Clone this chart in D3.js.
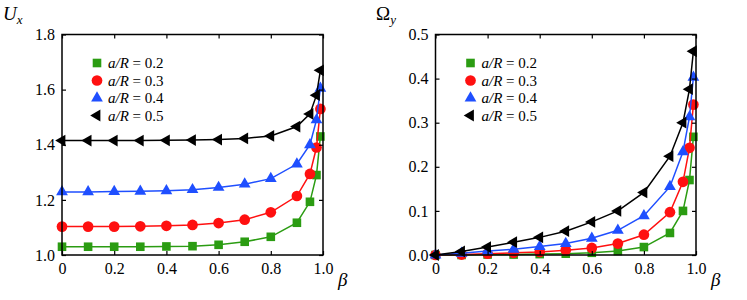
<!DOCTYPE html>
<html>
<head>
<meta charset="utf-8">
<script src="https://cdn.jsdelivr.net/npm/d3@7"></script>
<style>
  svg text, svg tspan { font-family: 'Liberation Serif', serif !important; }
</style>
</head>
<body style="margin:0">
<script>
// beta values (same for every series and both panels)
var beta = [0, 0.1, 0.2, 0.3, 0.4, 0.5, 0.6, 0.7, 0.8, 0.9, 0.95, 0.975, 0.99];

// a/R labels for the four series
var ratios = ['0.2', '0.3', '0.4', '0.5'];

// U_x, left panel
var ux02 = [1.030, 1.030, 1.030, 1.030, 1.031, 1.032, 1.037, 1.048, 1.066, 1.117, 1.193, 1.29, 1.43];
var ux03 = [1.103, 1.103, 1.103, 1.104, 1.106, 1.109, 1.116, 1.128, 1.155, 1.214, 1.294, 1.39, 1.53];
var ux04 = [1.229, 1.229, 1.230, 1.231, 1.233, 1.237, 1.245, 1.257, 1.277, 1.330, 1.40, 1.49, 1.605];
var ux05 = [1.415, 1.415, 1.415, 1.415, 1.416, 1.417, 1.419, 1.423, 1.432, 1.466, 1.512, 1.58, 1.67];

// Omega_y, right panel
var om02 = [0, 0.000, 0.001, 0.001, 0.002, 0.003, 0.005, 0.009, 0.018, 0.050, 0.100, 0.170, 0.268];
var om03 = [0, 0.001, 0.003, 0.005, 0.007, 0.011, 0.016, 0.026, 0.046, 0.097, 0.166, 0.243, 0.341];
var om04 = [0, 0.004, 0.009, 0.013, 0.019, 0.026, 0.038, 0.056, 0.089, 0.155, 0.234, 0.313, 0.403];
var om05 = [0, 0.008, 0.018, 0.029, 0.040, 0.054, 0.075, 0.100, 0.142, 0.224, 0.300, 0.376, 0.462];

// tick values
var xTicks = [0, 0.2, 0.4, 0.6, 0.8, 1.0];
var uxTicks = [1.0, 1.2, 1.4, 1.6, 1.8];
var omTicks = [0, 0.1, 0.2, 0.3, 0.4, 0.5];

var colors = ['#2b9c12', '#ff1010', '#1f4fff', '#000000'];
var shapes = ['square', 'circle', 'up', 'left'];

var svg = d3.select('body').append('svg')
  .attr('width', 747)
  .attr('height', 300)
  .attr('font-family', 'Liberation Serif');

function symbolPath(shape) {
  if (shape === 'square') return d3.symbol().type(d3.symbolSquare).size(74)();
  if (shape === 'circle') return d3.symbol().type(d3.symbolCircle).size(90)();
  return d3.symbol().type(d3.symbolTriangle).size(60)();
}

function addMarker(g, shape, color, x, y) {
  g.append('path')
    .attr('d', symbolPath(shape))
    .attr('fill', color)
    .attr('transform', 'translate(' + x + ',' + y + ')' + (shape === 'left' ? ' rotate(-90)' : ''));
}

function styleAxis(sel) {
  sel.attr('font-family', 'Liberation Serif').attr('font-size', 16);
  sel.select('.domain').remove();
  sel.selectAll('line').attr('stroke', '#000').attr('stroke-width', 1.2);
  sel.selectAll('text').attr('fill', '#000');
}

function panel(opts) {
  var g = svg.append('g');
  var x = d3.scaleLinear().domain([0, 1]).range([opts.left, opts.right]);
  var y = d3.scaleLinear().domain(opts.ydomain).range([opts.bottom, opts.top]);

  // series lines then markers
  opts.series.forEach(function(vals, k) {
    var pts = beta.map(function(b, i) { return [b, vals[i]]; });
    g.append('path')
      .datum(pts)
      .attr('fill', 'none')
      .attr('stroke', colors[k])
      .attr('stroke-width', 1.5)
      .attr('d', d3.line().x(function(d) { return x(d[0]); }).y(function(d) { return y(d[1]); }));
    pts.forEach(function(d) {
      addMarker(g, shapes[k], colors[k], x(d[0]), y(d[1]));
    });
  });

  // frame
  g.append('rect')
    .attr('x', opts.left).attr('y', opts.top)
    .attr('width', opts.right - opts.left).attr('height', opts.bottom - opts.top)
    .attr('fill', 'none').attr('stroke', '#000').attr('stroke-width', 1.5);

  // inward ticks on all four sides, labels on left and bottom
  var TICK = 4;
  g.append('g').attr('transform', 'translate(0,' + opts.bottom + ')')
    .call(d3.axisBottom(x).tickValues(xTicks).tickSizeInner(-TICK).tickSizeOuter(0)
      .tickPadding(8).tickFormat(function(d) { return d === 0 ? '0' : d3.format('.1f')(d); }))
    .call(styleAxis);
  g.append('g').attr('transform', 'translate(0,' + opts.top + ')')
    .call(d3.axisTop(x).tickValues(xTicks).tickSizeInner(-TICK).tickSizeOuter(0).tickFormat(''))
    .call(styleAxis);
  g.append('g').attr('transform', 'translate(' + opts.left + ',0)')
    .call(d3.axisLeft(y).tickValues(opts.yticks).tickSizeInner(-TICK).tickSizeOuter(0)
      .tickPadding(7).tickFormat(d3.format('.1f')))
    .call(styleAxis);
  g.append('g').attr('transform', 'translate(' + opts.right + ',0)')
    .call(d3.axisRight(y).tickValues(opts.yticks).tickSizeInner(-TICK).tickSizeOuter(0).tickFormat(''))
    .call(styleAxis);

  // legend
  ratios.forEach(function(r, k) {
    var ly = 63 + k * 17.5;
    addMarker(g, shapes[k], colors[k], opts.left + 35, ly);
    var t = g.append('text')
      .attr('x', opts.left + 46).attr('y', ly + 5)
      .attr('font-size', 15);
    t.append('tspan').attr('font-style', 'italic').text('a/R');
    t.append('tspan').text(' = ' + r);
  });

  // y axis title
  var yt = g.append('text')
    .attr('x', opts.ylabelX).attr('y', 20)
    .attr('font-size', 19);
  yt.append('tspan').attr('font-style', opts.ylabelItalic ? 'italic' : 'normal').text(opts.ylabel);
  yt.append('tspan').attr('font-style', 'italic').attr('font-size', 13).attr('dy', 4).text(opts.ysub);

  // x axis title
  g.append('text')
    .attr('x', opts.right + 15).attr('y', 286)
    .attr('font-size', 19).attr('font-style', 'italic')
    .text('β');
}

panel({
  left: 62, right: 323, top: 34.5, bottom: 255,
  ydomain: [1.0, 1.8], yticks: uxTicks,
  series: [ux02, ux03, ux04, ux05],
  ylabel: 'U', ysub: 'x', ylabelX: 3, ylabelItalic: true
});

panel({
  left: 435.5, right: 696, top: 34.5, bottom: 255,
  ydomain: [0, 0.5], yticks: omTicks,
  series: [om02, om03, om04, om05],
  ylabel: 'Ω', ysub: 'y', ylabelX: 376, ylabelItalic: false
});
</script>
</body>
</html>
